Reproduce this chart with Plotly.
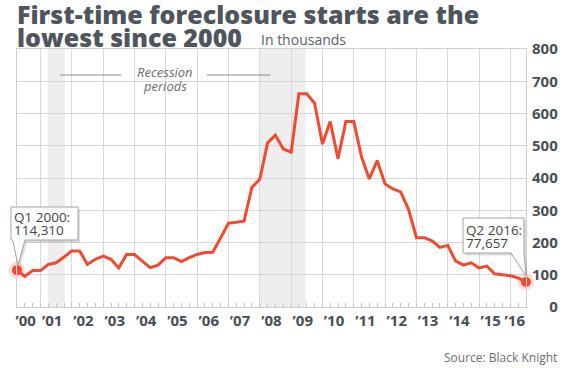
import plotly.graph_objects as go
import pandas as pd

# ---------------- data ----------------
quarters = [f"{y}Q{q}" for y in range(2000, 2017) for q in range(1, 5)][:66]
foreclosure_starts = [
    114.31, 95, 113, 113,
    132, 137, 155, 174,
    174, 132, 148, 158,
    148, 121, 163, 163,
    142, 122, 130, 153,
    153, 141, 153, 163,
    169, 170, 214, 260,
    263, 266, 371, 396,
    509, 533, 490, 480,
    661, 661, 632, 505,
    575, 460, 575, 575,
    466, 397, 454, 381,
    366, 357, 302, 215,
    215, 205, 185, 191,
    143, 130, 137, 121,
    127, 103, 100, 97,
    90, 77.657,
]
year_labels = ["\u2019%02d" % (y % 100) for y in range(2000, 2017)]
y_ticks = [0, 100, 200, 300, 400, 500, 600, 700, 800]
recession_starts = ["2001-03-25", "2007-12-31"]
recession_ends = ["2001-10-08", "2009-06-15"]
first_label = ["Q1 2000:", "114,310"]
last_label = ["Q2 2016:", "77,657"]

# ---------------- geometry ----------------
W, H = 569, 368
ML, MR, MT, MB = 17, 43, 49, 61
PW, PH = W - ML - MR, H - MT - MB
YMAX = 800

dates = pd.PeriodIndex(quarters, freq="Q").end_time.normalize()
x0, x1 = dates[0], dates[-1]
span = (x1 - x0).total_seconds()


def px(xp):
    return (xp - ML) / PW


def py(yp):
    return (H - MB - yp) / PH


def data_px(d, v):
    xp = ML + (pd.Timestamp(d) - x0).total_seconds() / span * PW
    yp = H - MB - v / YMAX * PH
    return xp, yp


RED = "#f04b32"
TXT = "#4a4e55"

fig = go.Figure()

fig.add_trace(go.Scatter(x=dates, y=foreclosure_starts, mode="lines",
                         line=dict(color=RED, width=3), hoverinfo="skip",
                         cliponaxis=False))
ends_x = [dates[0], dates[-1]]
ends_y = [foreclosure_starts[0], foreclosure_starts[-1]]
fig.add_trace(go.Scatter(x=ends_x, y=ends_y, mode="markers",
                         marker=dict(size=17, color="rgba(240,75,50,0.18)"),
                         hoverinfo="skip", cliponaxis=False))
fig.add_trace(go.Scatter(x=ends_x, y=ends_y, mode="markers",
                         marker=dict(size=10, color=RED),
                         hoverinfo="skip", cliponaxis=False))
# invisible trace so the quarter-tick overlay axis is drawn
fig.add_trace(go.Scatter(x=ends_x, y=ends_y, mode="lines", xaxis="x2",
                         line=dict(width=0), hoverinfo="skip", showlegend=False,
                         opacity=0))

shapes = []
for s, e in zip(recession_starts, recession_ends):
    shapes.append(dict(type="rect", xref="x", yref="paper", x0=s, x1=e, y0=0, y1=1,
                       fillcolor="#efeeee", line=dict(width=0), layer="below"))

# leader lines for "Recession periods"
for a, b in [(60, 121.5), (207, 270.5)]:
    shapes.append(dict(type="line", xref="paper", yref="paper",
                       x0=px(a), x1=px(b), y0=py(75), y1=py(75),
                       line=dict(color="#8a8d92", width=1.2)))


def callout(box, base, tip):
    (bx0, by0, bx1, by1) = box
    (ta, tb) = base
    pts = [(bx0, by0), (bx1, by0), (bx1, by1)]
    if tb >= bx1 - 0.5:
        pts += [tip, (ta, by1), (bx0, by1)]
    else:
        pts += [(tb, by1), tip, (ta, by1), (bx0, by1)]
    return pts


def path_of(pts, dx=0, dy=0):
    s = "M " + " L ".join(f"{px(x + dx):.5f},{py(y + dy):.5f}" for x, y in pts) + " Z"
    return s


tx, ty = data_px(dates[0], foreclosure_starts[0])
c1 = callout((11, 207, 78, 240), (12.7, 25), (tx + 1, ty - 5))
tx2, ty2 = data_px(dates[-1], foreclosure_starts[-1])
c2 = callout((463, 218, 524, 253), (511, 524), (tx2, ty2 - 6))
for pts in (c1, c2):
    shapes.append(dict(type="path", xref="paper", yref="paper", path=path_of(pts, 2, 2.5),
                       fillcolor="rgba(0,0,0,0.13)", line=dict(width=0)))
    shapes.append(dict(type="path", xref="paper", yref="paper", path=path_of(pts),
                       fillcolor="white", line=dict(color="#a3a3a3", width=1)))

ann = []


def text(t, x, y, size, color=TXT, anchor="left", italic=False, weight=None):
    f = dict(family="Open Sans", size=size, color=color)
    if weight:
        f["weight"] = weight
    if italic:
        f["style"] = "italic"
    ann.append(dict(text=t, x=px(x), y=py(y), xref="paper", yref="paper",
                    xanchor=anchor, yanchor="middle", showarrow=False, font=f))


text("First-time foreclosure starts are the", 15, 14, 25, color="#50555d", weight=800)
text("lowest since 2000", 15, 37, 25, color="#50555d", weight=800)
text("In thousands", 259, 40, 14, color="#5a5f66")
text("Recession", 165, 71.5, 13, color="#6a6d72", anchor="center", italic=True)
text("periods", 165, 86, 13, color="#6a6d72", anchor="center", italic=True)
text(first_label[0], 11.5, 216.5, 13.5, color="#444")
text(first_label[1], 11.5, 230, 13.5, color="#444")
text(last_label[0], 464, 229.5, 13.5, color="#444")
text(last_label[1], 464, 243, 13.5, color="#444")
text("Source: Black Knight", 559, 357, 12, color="#6a6d72", anchor="right")

# x label positions: a bit before mid-year, ends pulled inside the plot
label_pos = [f"{y}-05-15" for y in range(2000, 2016)] + ["2016-02-20"]
label_pos[0] = "2000-07-10"
year_starts = [f"{y}-01-01" for y in range(2001, 2017)]
quarter_starts = [f"{y}-{m:02d}-01" for y in range(2000, 2017) for m in (1, 4, 7, 10)]
quarter_starts = [q for q in quarter_starts if x0 <= pd.Timestamp(q) <= x1]

y_text = [("\u2007" * (3 - len(str(v)))) + str(v) for v in y_ticks]

fig.update_layout(
    width=W, height=H,
    margin=dict(l=ML, r=MR, t=MT, b=MB),
    paper_bgcolor="white", plot_bgcolor="white",
    showlegend=False,
    shapes=shapes, annotations=ann,
    xaxis=dict(type="date", range=[x0, x1], tickmode="array", tickvals=label_pos,
               ticktext=year_labels, showgrid=False, ticks="", zeroline=False,
               showline=True, mirror=True, linecolor="#cfcfcf", linewidth=1,
               tickfont=dict(family="Open Sans", size=15, color=TXT, weight=700),
               minor=dict(tickmode="array", tickvals=year_starts, showgrid=True,
                          gridcolor="#d9d9d9", gridwidth=1, ticks=""),
               fixedrange=True),
    xaxis2=dict(type="date", range=[x0, x1], overlaying="x", anchor="y", side="bottom",
                tickmode="array", tickvals=quarter_starts, ticks="inside", ticklen=4,
                tickcolor="#c4c4c4", tickwidth=1, showticklabels=False, showgrid=False,
                zeroline=False, showline=False),
    yaxis=dict(range=[0, YMAX], side="right", tickmode="array", tickvals=y_ticks,
               ticktext=y_text, showgrid=True, gridcolor="#d6d6d6", gridwidth=1,
               zeroline=False, showline=True, mirror=True, linecolor="#cfcfcf",
               ticks="outside", ticklen=2, tickcolor="rgba(0,0,0,0)",
               tickfont=dict(family="Open Sans", size=15, color=TXT, weight=700),
               fixedrange=True),
)

fig.write_html("out.html", config={"displayModeBar": False},
               post_script="document.body.style.margin='0';document.body.style.overflow='hidden';")
